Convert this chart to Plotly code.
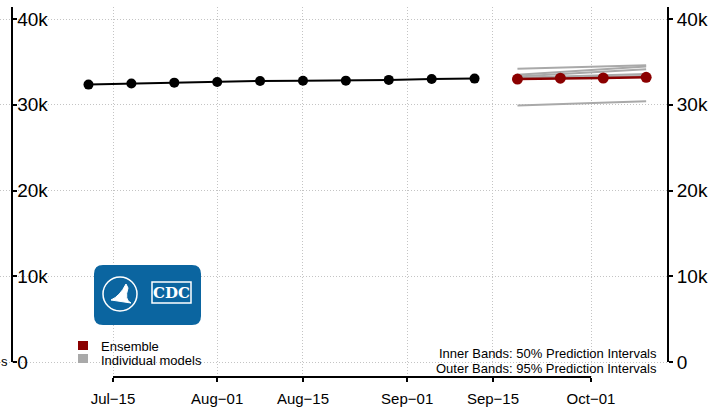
import pandas as pd
import plotly.graph_objects as go

# ---------------- data ----------------
obs_dates = ["2020-07-11", "2020-07-18", "2020-07-25", "2020-08-01", "2020-08-08",
             "2020-08-15", "2020-08-22", "2020-08-29", "2020-09-05", "2020-09-12"]
obs_values = [32350, 32470, 32580, 32660, 32780, 32790, 32810, 32900, 33000, 33050]

fc_dates = ["2020-09-19", "2020-09-26", "2020-10-03", "2020-10-10"]
ensemble_values = [33000, 33100, 33120, 33200]
model_values = [
    [34200, 34330, 34460, 34600],
    [33500, 33800, 34100, 34450],
    [33300, 33600, 33850, 34150],
    [33150, 33300, 33450, 33600],
    [33050, 33150, 33250, 33350],
    [29900, 30070, 30230, 30400],
]

x_tick_vals = ["2020-07-15", "2020-08-01", "2020-08-15", "2020-09-01", "2020-09-15", "2020-10-01"]
x_tick_text = ["Jul\u221215", "Aug\u221201", "Aug\u221215", "Sep\u221201", "Sep\u221215", "Oct\u221201"]
y_tick_vals = [0, 10000, 20000, 30000, 40000]
y_tick_text = ["0", "10k", "20k", "30k", "40k"]

# ---------------- geometry helpers ----------------
W, H = 713, 410
ML, MR, MT, MB = 0, 45, 7, 33
PW = W - ML - MR
PH = H - MT - MB


def px(p):
    return (p - ML) / PW


def py(p):
    return (H - MB - p) / PH


ppd = (591 - 113) / 78.0
t0 = pd.Timestamp("2020-07-15")
x_start = t0 - pd.Timedelta(days=(113 - ML) / ppd)
x_end = t0 + pd.Timedelta(days=(ML + PW - 113) / ppd)

y_per_px = 41400 / (362 - MT)
y_range = [-(H - MB - 362) * y_per_px, 41400]

FONT = "Liberation Sans, Arial, sans-serif"
DARKRED = "#8B0000"
GRAY = "#A9A9A9"
GRIDC = "#C4C4C4"

fig = go.Figure()

for mv in model_values:
    fig.add_trace(go.Scatter(x=fc_dates, y=mv, mode="lines",
                             line=dict(color=GRAY, width=2), showlegend=False,
                             hoverinfo="skip"))

fig.add_trace(go.Scatter(x=obs_dates, y=obs_values, mode="lines+markers",
                         line=dict(color="black", width=2),
                         marker=dict(color="black", size=10), showlegend=False))

fig.add_trace(go.Scatter(x=fc_dates, y=ensemble_values, mode="lines+markers",
                         line=dict(color=DARKRED, width=2.5),
                         marker=dict(color=DARKRED, size=11), showlegend=False))

# dummy trace for right axis
fig.add_trace(go.Scatter(x=[obs_dates[0]], y=[obs_values[0]], yaxis="y2",
                         mode="markers", marker=dict(opacity=0), showlegend=False,
                         hoverinfo="skip"))

grid = dict(showgrid=True, gridcolor=GRIDC, griddash="1px,2px", gridwidth=1)

fig.update_layout(
    width=W, height=H,
    margin=dict(l=ML, r=MR, t=MT, b=MB),
    plot_bgcolor="white", paper_bgcolor="white",
    font=dict(family=FONT, color="black"),
    showlegend=False,
    xaxis=dict(range=[x_start, x_end], tickvals=x_tick_vals, ticktext=x_tick_text,
               ticks="outside", ticklen=4, tickwidth=2, tickcolor="black",
               ticklabelstandoff=4,
               showline=False, zeroline=False, automargin=False,
               tickfont=dict(size=15, family=FONT, color="black"), **grid),
    yaxis=dict(range=y_range, tickvals=y_tick_vals, ticktext=y_tick_text,
               anchor="free", position=px(12), automargin=False,
               ticks="inside", ticklen=4, tickwidth=2, tickcolor="black",
               ticklabelposition="inside", ticklabelstandoff=1,
               showline=False, zeroline=False,
               tickfont=dict(size=19, family=FONT, color="black"), **grid),
    yaxis2=dict(range=y_range, tickvals=y_tick_vals, ticktext=y_tick_text,
                overlaying="y", side="right", anchor="x", automargin=False,
                ticks="outside", ticklen=4, tickwidth=2, tickcolor="black",
                showline=False, zeroline=False, showgrid=False,
                tickfont=dict(size=19, family=FONT, color="black")),
)

shapes = []
# axis lines
shapes.append(dict(type="line", xref="paper", yref="y", x0=px(12), x1=px(12),
                   y0=0, y1=41400, line=dict(color="black", width=2)))
shapes.append(dict(type="line", xref="paper", yref="y", x0=1, x1=1,
                   y0=0, y1=41400, line=dict(color="black", width=2)))
shapes.append(dict(type="line", xref="x", yref="paper", x0=x_tick_vals[0],
                   x1=x_tick_vals[-1], y0=0, y1=0, line=dict(color="black", width=2)))

# legend squares
shapes.append(dict(type="rect", xref="paper", yref="paper", x0=px(78), x1=px(88),
                   y0=py(350), y1=py(341), fillcolor=DARKRED, line=dict(width=0)))
shapes.append(dict(type="rect", xref="paper", yref="paper", x0=px(78), x1=px(88),
                   y0=py(363), y1=py(354), fillcolor=GRAY, line=dict(width=0)))


# CDC logo (rounded rectangle)
def rrect(x0, y0, x1, y1, r):
    X = lambda v: px(v)
    Y = lambda v: py(v)
    return (f"M {X(x0 + r)},{Y(y0)} L {X(x1 - r)},{Y(y0)} Q {X(x1)},{Y(y0)} {X(x1)},{Y(y0 + r)} "
            f"L {X(x1)},{Y(y1 - r)} Q {X(x1)},{Y(y1)} {X(x1 - r)},{Y(y1)} "
            f"L {X(x0 + r)},{Y(y1)} Q {X(x0)},{Y(y1)} {X(x0)},{Y(y1 - r)} "
            f"L {X(x0)},{Y(y0 + r)} Q {X(x0)},{Y(y0)} {X(x0 + r)},{Y(y0)} Z")


shapes.append(dict(type="path", xref="paper", yref="paper", path=rrect(94, 265, 201, 325, 9),
                   fillcolor="#0B65A0", line=dict(width=0)))
shapes.append(dict(type="circle", xref="paper", yref="paper", x0=px(103), x1=px(137),
                   y0=py(311), y1=py(277), line=dict(color="white", width=1.5)))
shapes.append(dict(type="path", xref="paper", yref="paper",
                   path=f"M {px(111)},{py(300)} Q {px(120)},{py(296)} {px(126)},{py(284)} "
                        f"L {px(128)},{py(288)} Q {px(124)},{py(300)} {px(131)},{py(303)} Z",
                   fillcolor="white", line=dict(color="white", width=1)))
shapes.append(dict(type="rect", xref="paper", yref="paper", x0=px(152), x1=px(191),
                   y0=py(303), y1=py(282), line=dict(color="white", width=1.5)))
fig.update_layout(shapes=shapes)

annotations = [
    dict(text="<b>CDC</b>", x=px(171.5), y=py(292.5), xref="paper", yref="paper",
         showarrow=False, font=dict(size=15, color="white", family="DejaVu Serif"),
         xanchor="center", yanchor="middle"),
    dict(text="Ensemble", x=px(99), y=py(346), xref="paper", yref="paper",
         showarrow=False, font=dict(size=13), xanchor="left", yanchor="middle"),
    dict(text="Individual models", x=px(99), y=py(360), xref="paper", yref="paper",
         showarrow=False, font=dict(size=13), xanchor="left", yanchor="middle"),
    dict(text="Inner Bands: 50% Prediction Intervals", x=px(659), y=py(353),
         xref="paper", yref="paper", showarrow=False, font=dict(size=13),
         xanchor="right", yanchor="middle"),
    dict(text="Outer Bands: 95% Prediction Intervals", x=px(659), y=py(368),
         xref="paper", yref="paper", showarrow=False, font=dict(size=13),
         xanchor="right", yanchor="middle"),
    dict(text="s", x=px(0), y=py(361), xref="paper", yref="paper",
         showarrow=False, font=dict(size=13), xanchor="left", yanchor="middle",
         borderpad=0),
]
fig.update_layout(annotations=annotations)

fig.write_html("out.html", config={"displayModeBar": False},
               post_script="document.body.style.margin='0px';document.body.style.overflow='hidden';")
